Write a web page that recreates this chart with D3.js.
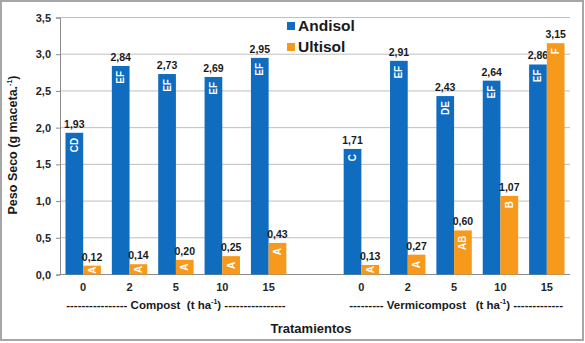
<!DOCTYPE html>
<html>
<head>
<meta charset="utf-8">
<script src="https://cdn.jsdelivr.net/npm/d3@7"></script>
<style>
  body { margin: 0; background: #fff; }
  svg { display: block; font-family: "Liberation Sans", Arial, sans-serif; }
</style>
</head>
<body>
<div id="chart"></div>
<script>
// treatment slots: five compost doses, an empty spacer, five vermicompost doses
const slots = ["c0", "c2", "c5", "c10", "c15", "gap", "v0", "v2", "v5", "v10", "v15"]
const doseLabels = ["0", "2", "5", "10", "15", "", "0", "2", "5", "10", "15"]
const andisol = [1.93, 2.84, 2.73, 2.69, 2.95, null, 1.71, 2.91, 2.43, 2.64, 2.86]
const ultisol = [0.12, 0.14, 0.20, 0.25, 0.43, null, 0.13, 0.27, 0.60, 1.07, 3.15]
const andisolLetters = ["CD", "EF", "EF", "EF", "EF", "", "C", "EF", "DE", "EF", "EF"]
const ultisolLetters = ["A", "A", "A", "A", "A", "", "A", "A", "AB", "B", "F"]
const yTicks = [0, 0.5, 1, 1.5, 2, 2.5, 3, 3.5]

const W = 585, H = 343
const margin = { left: 60, right: 15, top: 17.5, bottom: 68.5 }
const blue = "#0f6cbf", orange = "#f7991b"

const svg = d3.select("#chart").append("svg")
    .attr("width", W)
    .attr("height", H)

// outer frame
svg.append("rect")
    .attr("x", 1).attr("y", 1)
    .attr("width", W - 3).attr("height", H - 4)
    .attr("fill", "none")
    .attr("stroke", "#a6a6a6")
    .attr("stroke-width", 2)

const x = d3.scaleBand()
    .domain(slots)
    .range([margin.left, W - margin.right])
const y = d3.scaleLinear()
    .domain([0, 3.5])
    .range([H - margin.bottom, margin.top])

const fmt = v => d3.format(".1f")(v).replace(".", ",")
const fmt2 = v => d3.format(".2f")(v).replace(".", ",")

// gridlines
svg.append("g")
    .selectAll("line")
    .data(yTicks.slice(1))
    .enter()
    .append("line")
    .attr("x1", margin.left)
    .attr("x2", W - margin.right)
    .attr("y1", d => y(d))
    .attr("y2", d => y(d))
    .attr("stroke", "#bfbfbf")
    .attr("stroke-width", 1)

// y axis
const yAxis = svg.append("g")
    .attr("transform", `translate(${margin.left},0)`)
    .call(d3.axisLeft(y).tickValues(yTicks).tickFormat(fmt).tickSize(4).tickPadding(5))
yAxis.select(".domain").attr("stroke", "#8c8c8c")
yAxis.selectAll(".tick line").attr("stroke", "#8c8c8c")
yAxis.selectAll("text")
    .attr("font-size", 11)
    .attr("font-weight", "bold")
    .attr("fill", "#262626")

// x baseline and dose labels
svg.append("line")
    .attr("x1", margin.left).attr("x2", W - margin.right)
    .attr("y1", y(0)).attr("y2", y(0))
    .attr("stroke", "#8c8c8c")
const xAxis = svg.append("g")
    .attr("transform", `translate(0,${y(0)})`)
    .call(d3.axisBottom(x).tickSize(0).tickPadding(9).tickFormat((d, i) => doseLabels[i]))
xAxis.select(".domain").remove()
xAxis.selectAll("text")
    .attr("font-size", 11)
    .attr("font-weight", "bold")
    .attr("fill", "#262626")

const barW = 17.7
const series = [
    { name: "Andisol", values: andisol, letters: andisolLetters, color: blue, dx: -barW },
    { name: "Ultisol", values: ultisol, letters: ultisolLetters, color: orange, dx: 0 }
]

series.forEach(s => {
    const rows = slots.map((k, i) => ({ k, v: s.values[i], l: s.letters[i] }))
        .filter(d => d.v !== null)
    const cx = d => x(d.k) + x.bandwidth() / 2 + s.dx
    const g = svg.append("g")

    g.selectAll("rect")
        .data(rows)
        .enter()
        .append("rect")
        .attr("x", d => cx(d))
        .attr("y", d => y(d.v))
        .attr("width", barW)
        .attr("height", d => y(0) - y(d.v))
        .attr("fill", s.color)

    // value above each bar
    g.selectAll("text.val")
        .data(rows)
        .enter()
        .append("text")
        .classed("val", true)
        .attr("x", d => cx(d) + barW / 2)
        .attr("y", d => y(d.v) - 5)
        .attr("text-anchor", "middle")
        .attr("font-size", 10.5)
        .attr("font-weight", "bold")
        .attr("fill", "#1a1a1a")
        .text(d => fmt2(d.v))

    // significance letters, rotated inside the bar
    g.selectAll("text.let")
        .data(rows)
        .enter()
        .append("text")
        .classed("let", true)
        .attr("transform", d => {
            const top = y(d.v), h = y(0) - top
            const ty = h < 30 ? top + h / 2 : top + 5
            return `translate(${cx(d) + barW / 2},${ty}) rotate(-90)`
        })
        .attr("text-anchor", d => (y(0) - y(d.v)) < 30 ? "middle" : "end")
        .attr("dy", "0.35em")
        .attr("font-size", 10)
        .attr("font-weight", "bold")
        .attr("fill", "#fff")
        .text(d => d.l)
})

// legend
const legend = svg.append("g").attr("transform", "translate(287,0)")
series.forEach((s, i) => {
    legend.append("rect")
        .attr("x", 0).attr("y", 22 + i * 21)
        .attr("width", 8).attr("height", 8)
        .attr("fill", s.color)
    legend.append("text")
        .attr("x", 11).attr("y", 31 + i * 21)
        .attr("font-size", 15.5)
        .attr("font-weight", "bold")
        .attr("fill", "#1a1a1a")
        .text(s.name)
})

// group captions under the doses
function groupCaption(cxPos, lead, name, gap, tail) {
    const t = svg.append("text")
        .attr("x", cxPos).attr("y", 309)
        .attr("text-anchor", "middle")
        .attr("font-size", 11.5)
        .attr("font-weight", "bold")
        .attr("fill", "#1a1a1a")
        .attr("xml:space", "preserve")
    t.append("tspan").text(lead + " " + name + gap + "(t ha")
    t.append("tspan").attr("font-size", 7).attr("dy", -5).text("-1")
    t.append("tspan").attr("dy", 5).text(") " + tail)
}
groupCaption(x("c5") + x.bandwidth() / 2, "----------------", "Compost", "  ", "----------------")
groupCaption(x("v5") + x.bandwidth() / 2 + 2, "---------", "Vermicompost", "   ", "-------------")

// axis titles
svg.append("text")
    .attr("x", 311).attr("y", 333)
    .attr("text-anchor", "middle")
    .attr("font-size", 13)
    .attr("font-weight", "bold")
    .attr("fill", "#1a1a1a")
    .text("Tratamientos")

const yTitle = svg.append("text")
    .attr("transform", "translate(17,145) rotate(-90)")
    .attr("text-anchor", "middle")
    .attr("font-size", 12.5)
    .attr("font-weight", "bold")
    .attr("fill", "#1a1a1a")
yTitle.append("tspan").text("Peso Seco (g maceta.")
yTitle.append("tspan").attr("font-size", 7).attr("dy", -5).text("-1")
yTitle.append("tspan").attr("dy", 5).text(")")
</script>
</body>
</html>
